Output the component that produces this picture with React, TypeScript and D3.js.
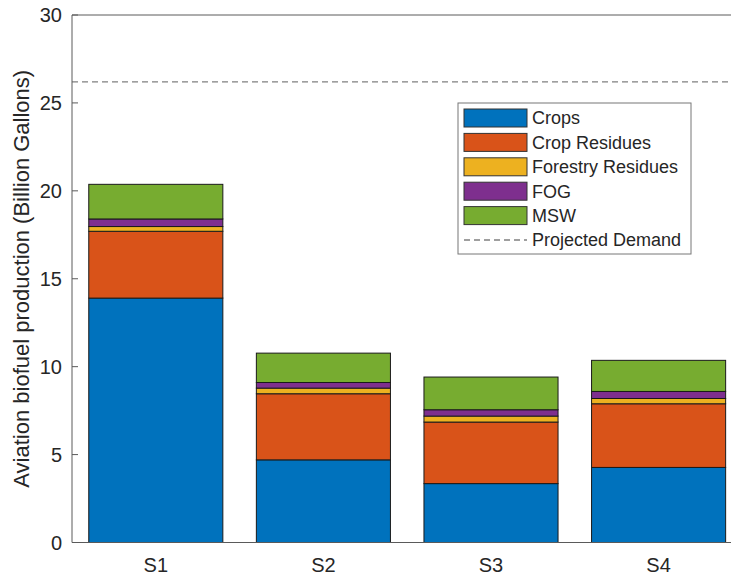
import React from "react";
import * as d3 from "d3";

const scenarios = ["S1", "S2", "S3", "S4"];
const seriesNames = ["Crops", "Crop Residues", "Forestry Residues", "FOG", "MSW"];
const crops = [13.9, 4.7, 3.35, 4.27];
const cropResidues = [3.8, 3.76, 3.5, 3.62];
const forestryResidues = [0.27, 0.32, 0.34, 0.3];
const fog = [0.43, 0.32, 0.36, 0.4];
const msw = [1.97, 1.67, 1.86, 1.77];
const projectedDemand = 26.2;
const yTicks = [0, 5, 10, 15, 20, 25, 30];
const colors = ["#0072BD", "#D95319", "#EDB120", "#7E2F8E", "#77AC30"];

export default function App() {
  const W = 731, H = 578;
  const left = 72, top = 15, bottom = 542.5;
  const x = d3.scaleLinear().domain([0.5, 4.5]).range([left, 742.4]);
  const y = d3.scaleLinear().domain([0, 30]).range([bottom, top]);
  const series = [crops, cropResidues, forestryResidues, fog, msw];
  const rows = scenarios.map((s, i) => {
    const r: any = { s };
    seriesNames.forEach((n, k) => (r[n] = series[k][i]));
    return r;
  });
  const stacked = d3.stack().keys(seriesNames)(rows);
  const bw = 0.8;
  const font = "Liberation Sans, Arial, Helvetica, sans-serif";
  const txt = "#262626";
  const axisC = "#5a5a5a";

  const legX = 458, legY = 103, legW = 233, legH = 151;
  const rowH = 24.4;

  return (
    <svg width={W} height={H} style={{ position: "fixed", left: 0, top: 0, background: "#fff" }} fontFamily={font}>
      <rect x={0} y={0} width={W} height={H} fill="#fff" />
      {stacked.map((layer, k) =>
        layer.map((d, i) => (
          <rect
            key={`${k}-${i}`}
            x={x(i + 1 - bw / 2)}
            width={x(i + 1 + bw / 2) - x(i + 1 - bw / 2)}
            y={y(d[1])}
            height={y(d[0]) - y(d[1])}
            fill={colors[k]}
            stroke="#1a1a1a"
            strokeWidth={1}
          />
        ))
      )}
      <line x1={left} x2={W} y1={y(projectedDemand)} y2={y(projectedDemand)} stroke="#808080" strokeWidth={1.3} strokeDasharray="6,4" />
      <line x1={left} x2={left} y1={top} y2={bottom} stroke={axisC} strokeWidth={1} />
      <line x1={left} x2={W} y1={top} y2={top} stroke={axisC} strokeWidth={1} />
      <line x1={left} x2={W} y1={bottom} y2={bottom} stroke={axisC} strokeWidth={1} />
      {yTicks.map((t) => (
        <g key={t}>
          <line x1={left} x2={left + 6} y1={y(t)} y2={y(t)} stroke={axisC} />
          <text x={62} y={y(t)} dy="0.35em" textAnchor="end" fontSize={20} fill={txt}>
            {t}
          </text>
        </g>
      ))}
      {scenarios.map((s, i) => (
        <text key={s} x={x(i + 1)} y={572} textAnchor="middle" fontSize={20} fill={txt}>
          {s}
        </text>
      ))}
      <text
        transform={`translate(29,${(top + bottom) / 2}) rotate(-90)`}
        textAnchor="middle"
        fontSize={22}
        fill={txt}
      >
        Aviation biofuel production (Billion Gallons)
      </text>
      <rect x={legX} y={legY} width={legW} height={legH} fill="#fff" stroke="#777" strokeWidth={1} />
      {seriesNames.map((n, k) => {
        const cy = legY + 15 + k * rowH;
        return (
          <g key={n}>
            <rect x={464} y={cy - 9} width={63} height={18} fill={colors[k]} stroke="#333" strokeWidth={1} />
            <text x={532} y={cy} dy="0.35em" fontSize={18} fill={txt}>
              {n}
            </text>
          </g>
        );
      })}
      <line x1={464} x2={527} y1={legY + 15 + 5 * rowH} y2={legY + 15 + 5 * rowH} stroke="#808080" strokeWidth={1.3} strokeDasharray="6,4" />
      <text x={532} y={legY + 15 + 5 * rowH} dy="0.35em" fontSize={18} fill={txt}>
        Projected Demand
      </text>
    </svg>
  );
}
